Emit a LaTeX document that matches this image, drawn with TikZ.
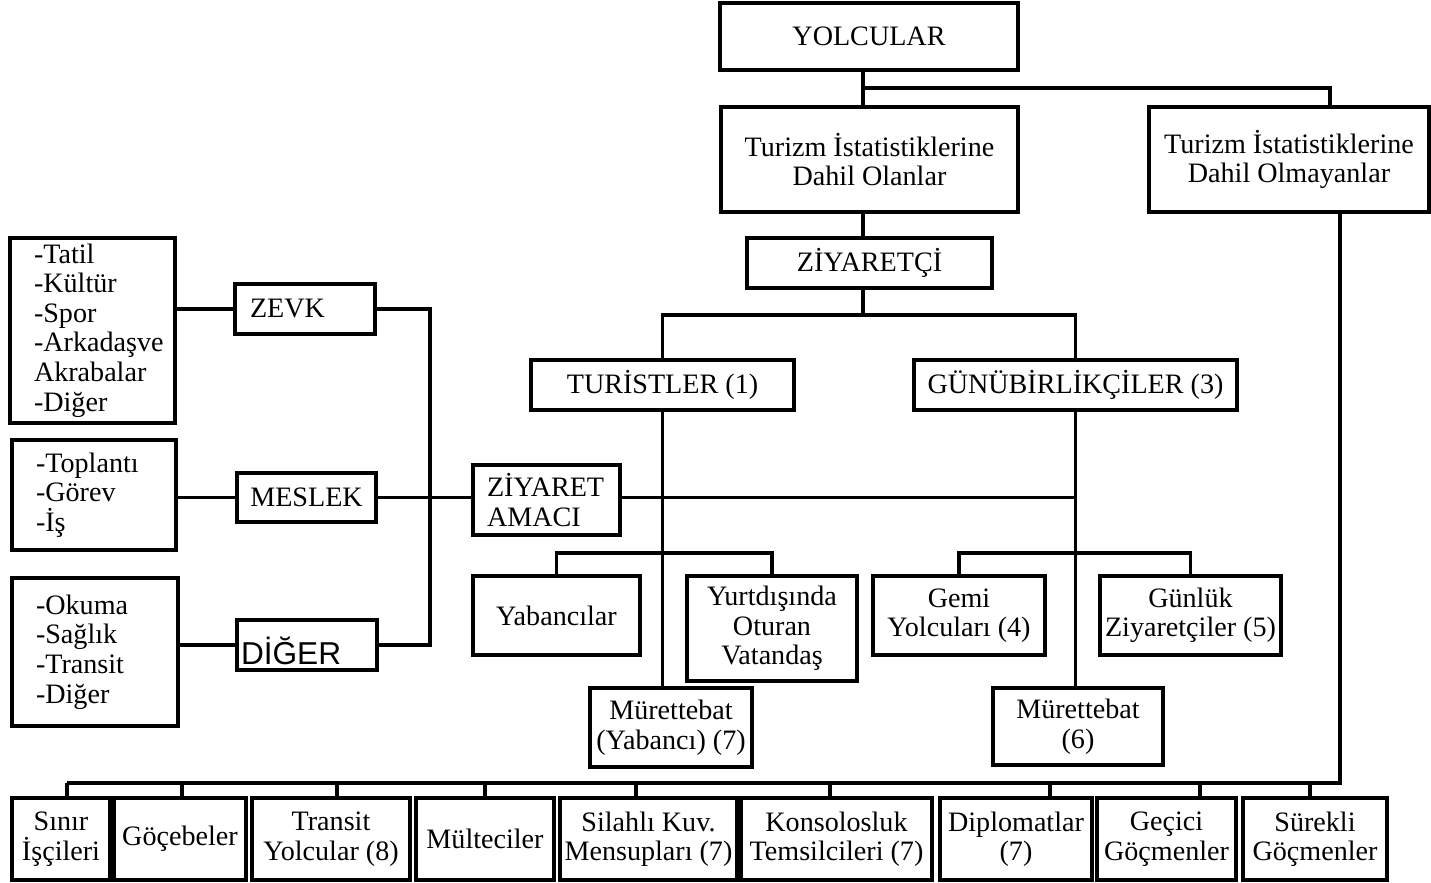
\documentclass[tikz,border=0pt]{standalone}
\usepackage{fontspec}
\setmainfont{Liberation Serif}
\setsansfont{Liberation Sans}
\newcommand{\FigureFont}{\fontsize{8}{8.4}\selectfont}
\usepackage{tikz}

\begin{document}
\begin{tikzpicture}[x=1cm,y=1cm,text=black,
  kutu/.style={draw=black,line width=.90pt,inner sep=0pt,font=\FigureFont,align=center},
  liste/.style={kutu,align=left,inner xsep=.24cm},
  baglanti/.style={draw=black,line width=.90pt,line cap=butt,line join=miter}]
  \useasboundingbox (0,0) rectangle (14.31,8.82);
  % ust kisim
  \node[kutu,minimum width=2.98cm,minimum height=.67cm] (yolcular) at (8.69,8.455) {YOLCULAR};
  \node[kutu,minimum width=2.97cm,minimum height=1.05cm] (dahil) at (8.695,7.225) {Turizm İstatistiklerine\\Dahil Olanlar};
  \node[kutu,minimum width=2.80cm,minimum height=1.05cm] (haric) at (12.89,7.225) {Turizm İstatistiklerine\\Dahil Olmayanlar};
  \node[kutu,minimum width=2.45cm,minimum height=.50cm] (ziyaretci) at (8.695,6.19) {ZİYARETÇİ};
  \node[kutu,minimum width=2.63cm,minimum height=.50cm] (turist) at (6.625,4.97) {TURİSTLER (1)};
  \node[kutu,minimum width=3.23cm,minimum height=.50cm] (gunubirlik) at (10.755,4.97) {GÜNÜBİRLİKÇİLER (3)};
  % ziyaret amaci
  \node[liste,text width=1.17cm,minimum height=1.85cm] (tatil) at (.925,5.515) {-Tatil\\-Kültür\\-Spor\\\mbox{-Arkadaşve}\\Akrabalar\\-Diğer};
  \node[liste,text width=1.16cm,minimum height=1.10cm] (toplanti) at (.94,3.87) {-Toplantı\\-Görev\\-İş};
  \node[liste,text width=1.18cm,minimum height=1.48cm] (okuma) at (.95,2.30) {-Okuma\\-Sağlık\\-Transit\\-Diğer};
  \node[kutu,align=left,text width=1.10cm,inner xsep=.15cm,minimum height=.50cm] (zevk) at (3.05,5.73) {ZEVK};
  \node[kutu,minimum width=1.39cm,minimum height=.49cm] (meslek) at (3.065,3.845) {MESLEK};
  \node[kutu,align=left,text width=1.32cm,inner xsep=.04cm,minimum height=.50cm,
    font=\sffamily\fontsize{9}{10}\selectfont,text height=.39cm,text depth=0pt] (diger) at (3.07,2.37) {DİĞER};
  \node[kutu,align=left,text width=1.19cm,inner xsep=.14cm,minimum height=.70cm] (ziyaret) at (5.465,3.82) {ZİYARET\\AMACI};
  % alt dallar
  \node[kutu,minimum width=1.67cm,minimum height=.79cm] (yabanci) at (5.565,2.665) {Yabancılar};
  \node[kutu,minimum width=1.70cm,minimum height=1.05cm] (yurtdisi) at (7.72,2.535) {Yurtdışında\\Oturan\\Vatandaş};
  \node[kutu,minimum width=1.62cm,minimum height=.79cm] (murA) at (6.71,1.545) {Mürettebat\\(Yabancı) (7)};
  \node[kutu,minimum width=1.72cm,minimum height=.79cm] (gemi) at (9.59,2.665) {Gemi\\Yolcuları (4)};
  \node[kutu,minimum width=1.81cm,minimum height=.79cm] (gunluk) at (11.905,2.665) {Günlük\\Ziyaretçiler (5)};
  \node[kutu,minimum width=1.70cm,minimum height=.77cm] (murB) at (10.78,1.555) {Mürettebat\\(6)};
  % dahil olmayanlar
  \node[kutu,minimum width=.98cm,minimum height=.82cm] (sinir) at (.61,.43) {Sınır\\İşçileri};
  \node[kutu,minimum width=1.32cm,minimum height=.82cm] (gocebe) at (1.80,.43) {Göçebeler};
  \node[kutu,minimum width=1.58cm,minimum height=.82cm] (transit) at (3.31,.43) {Transit\\Yolcular (8)};
  \node[kutu,minimum width=1.38cm,minimum height=.82cm] (multeci) at (4.85,.43) {Mülteciler};
  \node[kutu,minimum width=1.77cm,minimum height=.82cm] (silahli) at (6.485,.43) {Silahlı Kuv.\\Mensupları (7)};
  \node[kutu,minimum width=1.91cm,minimum height=.82cm] (konsol) at (8.365,.43) {Konsolosluk\\Temsilcileri (7)};
  \node[kutu,minimum width=1.52cm,minimum height=.82cm] (diplomat) at (10.16,.43) {Diplomatlar\\(7)};
  \node[kutu,minimum width=1.39cm,minimum height=.82cm] (gecici) at (11.665,.43) {Geçici\\Göçmenler};
  \node[kutu,minimum width=1.44cm,minimum height=.82cm] (surekli) at (13.15,.43) {Sürekli\\Göçmenler};
  % baglantilar
  \coordinate (ayrimA) at (8.63,7.94);
  \coordinate (ayrimAs) at (13.30,7.94);
  \draw[baglanti] (yolcular.south -| ayrimA) -- (dahil.north -| ayrimA);
  \draw[baglanti] (ayrimA) -- (ayrimAs) -- (haric.north -| ayrimAs);
  \draw[baglanti] (dahil.south -| ayrimA) -- (ziyaretci.north -| ayrimA);
  \coordinate (ayrimB) at (8.63,5.67);
  \draw[baglanti] (ziyaretci.south -| ayrimB) -- (ayrimB);
  \draw[baglanti] (turist.north) |- (ayrimB) -| (gunubirlik.north);
  \draw[baglanti] (turist.south) -- (turist.south |- murA.north);
  \draw[baglanti] (gunubirlik.south) -- (gunubirlik.south |- murB.north);
  \draw[baglanti] (meslek.east) -- (meslek.east -| ziyaret.west);
  \draw[baglanti] (meslek.east -| ziyaret.east) -- (meslek.east -| gunubirlik.south);
  \coordinate (ayrimC) at (4.30,3.85);
  \draw[baglanti] (zevk.east) -| (diger.east -| ayrimC) -- (diger.east);
  \draw[baglanti] (tatil.east |- zevk.east) -- (zevk.west);
  \draw[baglanti] (toplanti.east |- meslek.east) -- (meslek.west);
  \draw[baglanti] (okuma.east |- diger.east) -- (diger.west);
  \coordinate (ayrimD) at (6.63,3.29);
  \draw[baglanti] (yabanci.north) |- (ayrimD) -| (yurtdisi.north);
  \coordinate (ayrimE) at (10.72,3.29);
  \draw[baglanti] (gemi.north) |- (ayrimE) -| (gunluk.north);
  \coordinate (ayrimF) at (13.40,.99);
  \draw[baglanti] (haric.south -| ayrimF) -- (ayrimF) -- ([xshift=.06cm]sinir.north |- ayrimF);
  \foreach \kutuadi/\kayma in {sinir/.06,gocebe/.02,transit/.06,multeci/0,silahli/-.125,
    konsol/-.065,diplomat/.34,gecici/.335,surekli/-.05}
    \draw[baglanti] ([xshift=\kayma cm]\kutuadi.north) -- ([xshift=\kayma cm]\kutuadi.north |- ayrimF);
\end{tikzpicture}
\end{document}
